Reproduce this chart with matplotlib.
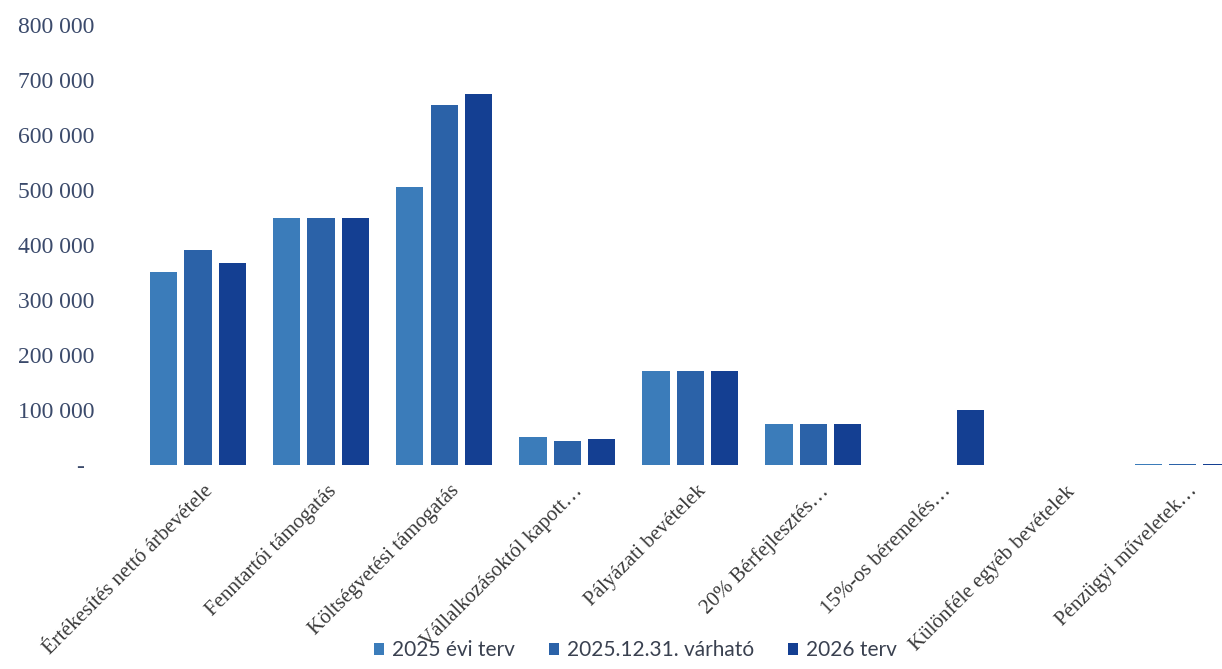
import numpy as np
import matplotlib.pyplot as plt
import matplotlib.transforms as mtransforms
from matplotlib.ticker import FuncFormatter

categories = ["Értékesítés nettó árbevétele", "Fenntartói támogatás",
              "Költségvetési támogatás", "Vállalkozásoktól kapott…",
              "Pályázati bevételek", "20% Bérfejlesztés…",
              "15%-os béremelés…", "Különféle egyéb bevételek",
              "Pénzügyi műveletek…"]
series_names = ["2025 évi terv", "2025.12.31. várható", "2026 terv"]
terv_2025 = [351000, 449000, 505000, 51000, 171000, 75000, 0, 0, 1500]
varhato_2025 = [391000, 449000, 655000, 44000, 171000, 75000, 0, 0, 2500]
terv_2026 = [367000, 449000, 675000, 47000, 171000, 75000, 100000, 0, 2000]
colors = ["#3b7cba", "#2b62a8", "#143f92"]

fig = plt.figure(figsize=(12.22, 6.69), dpi=100)
ax = fig.add_axes([0.1117, 0.305, 0.906, 0.658])

x = np.arange(len(categories))
step = 0.277
w = 0.22
for i, (vals, name) in enumerate(zip([terv_2025, varhato_2025, terv_2026], series_names)):
    ax.bar(x + (i - 1) * step, vals, w, color=colors[i], label=name)

ax.set_xlim(-0.5, len(categories) - 0.5)
ax.set_ylim(0, 800000)
ax.set_yticks(np.arange(0, 800001, 100000))

def fmt(v, pos):
    if v == 0:
        return "-"
    return f"{int(v):,}".replace(",", " ")

ax.yaxis.set_major_formatter(FuncFormatter(fmt))
ax.tick_params(axis="y", length=0, pad=30, labelsize=17, labelcolor="#3b4a6b")
for lab in ax.get_yticklabels():
    lab.set_family("Liberation Serif")
ax.get_yticklabels()[0].set_x(-0.01)

ax.set_xticks(x)
ax.set_xticklabels(categories, rotation=45, ha="right", rotation_mode="anchor",
                   family="Liberation Serif", fontsize=15, color="#3a3a3a")
ax.tick_params(axis="x", length=0, pad=12)
offset = mtransforms.ScaledTranslation(6 / 100, 0, fig.dpi_scale_trans)
for lab in ax.get_xticklabels():
    lab.set_transform(lab.get_transform() + offset)

for s in ax.spines.values():
    s.set_visible(False)

fig.legend(loc="center", bbox_to_anchor=(0.52, 0.028), ncol=3, frameon=False,
           prop={"family": "Lato", "size": 15}, handlelength=0.5, handleheight=0.5,
           handletextpad=0.4, columnspacing=1.6, labelcolor="#3a4150")

fig.savefig("out.png", dpi=100)
